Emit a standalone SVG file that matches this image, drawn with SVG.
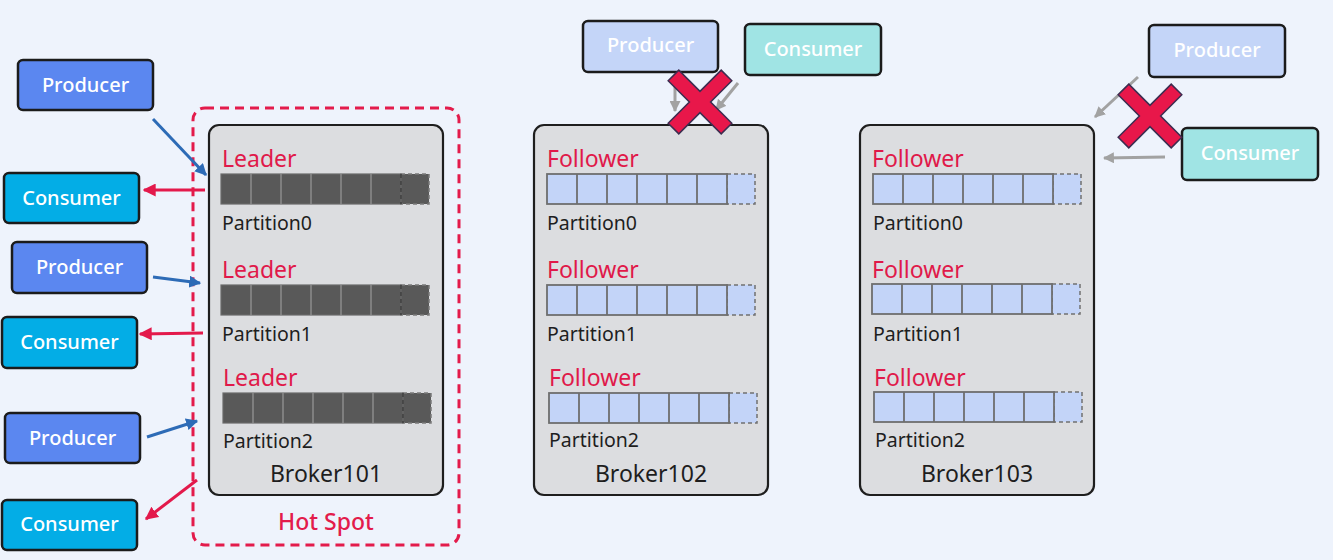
<svg xmlns="http://www.w3.org/2000/svg" xmlns:xlink="http://www.w3.org/1999/xlink" width="1333" height="560" viewBox="0 0 1333 560">
<style>
text{font-family:"Noto Sans","Open Sans","Liberation Sans",sans-serif;font-weight:500}
.prod{fill:#5b87f0;stroke:#1b1b1b;stroke-width:2.5}
.cons{fill:#03ade6;stroke:#1b1b1b;stroke-width:2.5}
.prodf{fill:#c4d5f8;stroke:#1b1b1b;stroke-width:2.5}
.consf{fill:#a0e4e4;stroke:#1b1b1b;stroke-width:2.5}
.nt{fill:#ffffff;font-size:20px;text-anchor:middle}
.broker{fill:#dcdde0;stroke:#1e1e1e;stroke-width:2.2}
.role{fill:#e0194a;font-size:23px;font-weight:450}
.part{fill:#1e1e1e;font-size:19.5px;font-weight:420}
.bname{fill:#1e1e1e;font-size:23px;text-anchor:middle;font-weight:420}
.blue{stroke:#2d6bb6;stroke-width:3;fill:none}
.red{stroke:#e3194b;stroke-width:3;fill:none}
.gray{stroke:#a2a2a2;stroke-width:3;fill:none}
.xmark{fill:#e8174a;stroke:#3c2c50;stroke-width:1.5}
</style>
<defs>
<marker id="ab" viewBox="0 0 10 10" refX="9" refY="5" markerWidth="12" markerHeight="12" markerUnits="userSpaceOnUse" orient="auto"><path d="M0,0 L10,5 L0,10 z" fill="#2d6bb6"/></marker>
<marker id="ar" viewBox="0 0 10 10" refX="9" refY="5" markerWidth="13" markerHeight="13" markerUnits="userSpaceOnUse" orient="auto"><path d="M0,0 L10,5 L0,10 z" fill="#e3194b"/></marker>
<marker id="ag" viewBox="0 0 10 10" refX="9" refY="5" markerWidth="11" markerHeight="11" markerUnits="userSpaceOnUse" orient="auto"><path d="M0,0 L10,5 L0,10 z" fill="#a2a2a2"/></marker>
<g id="barDark">
<rect x="180" y="0" width="28" height="30" fill="#595959" stroke="#7a7a7a" stroke-width="1.5" stroke-dasharray="4 3"/>
<rect x="0" y="0" width="180" height="30" fill="#595959" stroke="#6a6a6a" stroke-width="1.2"/>
<path d="M30,0V30M60,0V30M90,0V30M120,0V30M150,0V30" stroke="#8c8c8c" stroke-width="1.5"/>
<path d="M180,0V30" stroke="#3e3e3e" stroke-width="1.5" stroke-dasharray="4 3"/>
</g>
<g id="barLight">
<rect x="180" y="0" width="28" height="30" fill="#c3d4f8" stroke="#707070" stroke-width="1.5" stroke-dasharray="4 3"/>
<rect x="0" y="0" width="180" height="30" fill="#c3d4f8" stroke="#6e6e6e" stroke-width="1.8"/>
<path d="M30,0V30M60,0V30M90,0V30M120,0V30M150,0V30" stroke="#6e6e6e" stroke-width="1.8"/>
</g>
<path id="xshape" d="M7.5,-37.5 L7.5,-7.5 L37.5,-7.5 L37.5,7.5 L7.5,7.5 L7.5,37.5 L-7.5,37.5 L-7.5,7.5 L-37.5,7.5 L-37.5,-7.5 L-7.5,-7.5 L-7.5,-37.5 Z"/>
</defs>
<rect x="0" y="0" width="1333" height="560" fill="#eef3fc"/>

<g id="hotspot">
<rect x="193" y="108" width="266" height="437" rx="12" fill="none" stroke="#e31b4b" stroke-width="3" stroke-dasharray="9 6"/>
<text x="326" y="530" font-size="23" fill="#e31b4b" text-anchor="middle">Hot Spot</text>
</g>

<g id="broker101">
<rect class="broker" x="209" y="125" width="234" height="370" rx="10"/>
<text class="role" x="222" y="167">Leader</text>
<use xlink:href="#barDark" x="221" y="174"/>
<text class="part" x="222" y="230">Partition0</text>
<text class="role" x="222" y="278">Leader</text>
<use xlink:href="#barDark" x="221" y="285"/>
<text class="part" x="222" y="341">Partition1</text>
<text class="role" x="223" y="386">Leader</text>
<use xlink:href="#barDark" x="223" y="393"/>
<text class="part" x="223" y="448">Partition2</text>
<text class="bname" x="326" y="482">Broker101</text>
</g>

<g id="broker102">
<rect class="broker" x="534" y="125" width="234" height="370" rx="10"/>
<text class="role" x="547" y="167">Follower</text>
<use xlink:href="#barLight" x="547" y="174"/>
<text class="part" x="547" y="230">Partition0</text>
<text class="role" x="547" y="278">Follower</text>
<use xlink:href="#barLight" x="547" y="285"/>
<text class="part" x="547" y="341">Partition1</text>
<text class="role" x="549" y="386">Follower</text>
<use xlink:href="#barLight" x="549" y="393"/>
<text class="part" x="549" y="447">Partition2</text>
<text class="bname" x="651" y="482">Broker102</text>
</g>

<g id="broker103">
<rect class="broker" x="860" y="125" width="234" height="370" rx="10"/>
<text class="role" x="872" y="167">Follower</text>
<use xlink:href="#barLight" x="873" y="174"/>
<text class="part" x="873" y="230">Partition0</text>
<text class="role" x="872" y="278">Follower</text>
<use xlink:href="#barLight" x="872" y="284"/>
<text class="part" x="873" y="341">Partition1</text>
<text class="role" x="874" y="386">Follower</text>
<use xlink:href="#barLight" x="874" y="392"/>
<text class="part" x="875" y="447">Partition2</text>
<text class="bname" x="977" y="482">Broker103</text>
</g>

<g id="producer1"><rect class="prod" x="18" y="60" width="135" height="50" rx="5"/><text class="nt" x="85.5" y="92">Producer</text></g>
<g id="consumer1"><rect class="cons" x="4" y="173" width="135" height="50" rx="5"/><text class="nt" x="71.5" y="205">Consumer</text></g>
<g id="producer2"><rect class="prod" x="12" y="242" width="135" height="51" rx="5"/><text class="nt" x="79.5" y="274">Producer</text></g>
<g id="consumer2"><rect class="cons" x="2" y="317" width="135" height="51" rx="5"/><text class="nt" x="69.5" y="349">Consumer</text></g>
<g id="producer3"><rect class="prod" x="5" y="413" width="135" height="50" rx="5"/><text class="nt" x="72.5" y="445">Producer</text></g>
<g id="consumer3"><rect class="cons" x="2" y="500" width="135" height="50" rx="5"/><text class="nt" x="69.5" y="531">Consumer</text></g>

<g id="producer4"><rect class="prodf" x="583" y="21" width="135" height="51" rx="5"/><text class="nt" x="650.5" y="52">Producer</text></g>
<g id="consumer4"><rect class="consf" x="745" y="24" width="136" height="51" rx="5"/><text class="nt" x="813" y="56">Consumer</text></g>
<g id="producer5"><rect class="prodf" x="1149" y="25" width="136" height="52" rx="5"/><text class="nt" x="1217" y="57">Producer</text></g>
<g id="consumer5"><rect class="consf" x="1182" y="128" width="136" height="52" rx="5"/><text class="nt" x="1250" y="160">Consumer</text></g>

<g id="connectors">
<line class="blue" x1="153" y1="119" x2="206" y2="175" marker-end="url(#ab)"/>
<line class="red" x1="205" y1="190" x2="144" y2="190" marker-end="url(#ar)"/>
<line class="blue" x1="153" y1="277" x2="200" y2="283" marker-end="url(#ab)"/>
<line class="red" x1="203" y1="333" x2="140" y2="334" marker-end="url(#ar)"/>
<line class="blue" x1="147" y1="437" x2="197" y2="421" marker-end="url(#ab)"/>
<line class="red" x1="197" y1="480" x2="146" y2="519" marker-end="url(#ar)"/>
<line class="gray" x1="675" y1="82" x2="675" y2="111" marker-end="url(#ag)"/>
<line class="gray" x1="738" y1="83" x2="716" y2="110" marker-end="url(#ag)"/>
<line class="gray" x1="1138" y1="77" x2="1095" y2="117" marker-end="url(#ag)"/>
<line class="gray" x1="1165" y1="157" x2="1104" y2="158" marker-end="url(#ag)"/>
</g>

<g id="marks">
<use xlink:href="#xshape" class="xmark" transform="translate(700,102) rotate(45)"/>
<use xlink:href="#xshape" class="xmark" transform="translate(1150,116) rotate(45)"/>
</g>
</svg>
